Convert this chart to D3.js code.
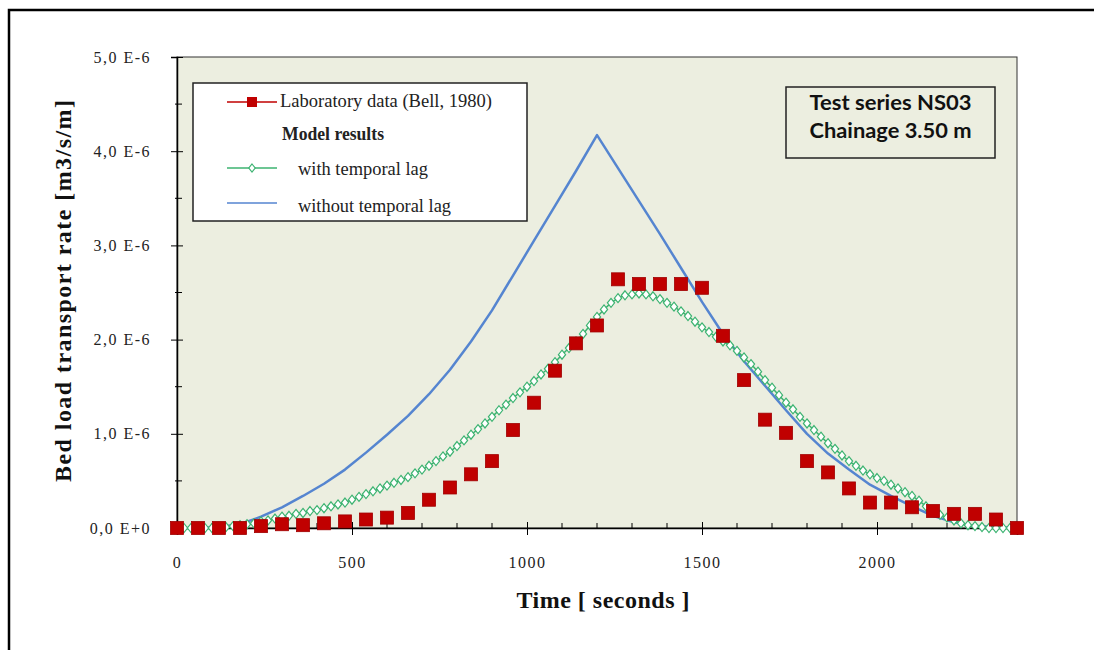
<!DOCTYPE html>
<html>
<head>
<meta charset="utf-8">
<script src="https://cdn.jsdelivr.net/npm/d3@7/dist/d3.min.js"></script>
<style>
  body { margin: 0; background: #fff; }
  svg { display: block; }
</style>
</head>
<body>
<svg width="1094" height="650"></svg>
<script>
// bed load rates are given in units of 1E-6 m3/s/m

// laboratory data (Bell, 1980), one sample each 60 s
var labTime = [0, 60, 120, 180, 240, 300, 360, 420, 480, 540, 600, 660, 720, 780, 840, 900,
  960, 1020, 1080, 1140, 1200, 1260, 1320, 1380, 1440, 1500, 1560, 1620, 1680, 1740, 1800,
  1860, 1920, 1980, 2040, 2100, 2160, 2220, 2280, 2340, 2400];
var labRate = [0, 0, 0, 0, 0.02, 0.04, 0.03, 0.05, 0.07, 0.09, 0.11, 0.16, 0.30, 0.43, 0.57, 0.71,
  1.04, 1.33, 1.67, 1.96, 2.15, 2.64, 2.59, 2.59, 2.59, 2.55, 2.04, 1.57, 1.15, 1.01, 0.71,
  0.59, 0.42, 0.27, 0.27, 0.22, 0.18, 0.15, 0.15, 0.09, 0];

// model without temporal lag, read at the same times as the lab data
var noLagRate = [0, 0, 0.01, 0.04, 0.12, 0.22, 0.34, 0.47, 0.62, 0.80, 0.99, 1.19, 1.42, 1.68, 1.98, 2.31,
  2.68, 3.05, 3.42, 3.79, 4.17, 3.82, 3.47, 3.12, 2.76, 2.40, 2.06, 1.77, 1.51, 1.25, 1.00,
  0.79, 0.62, 0.46, 0.34, 0.23, 0.13, 0.06, 0.02, 0.01, 0];

// model with temporal lag, output every 20 s
var lagTime = d3.range(0, 2401, 20);
var lagRate = [0, 0, 0, 0, 0, 0, 0.01, 0.01, 0.02, 0.03,
  0.04, 0.05, 0.07, 0.08, 0.10, 0.12, 0.13, 0.15, 0.16, 0.18,
  0.19, 0.21, 0.23, 0.25, 0.27, 0.30, 0.33, 0.36, 0.39, 0.42,
  0.45, 0.48, 0.51, 0.54, 0.58, 0.62, 0.66, 0.71, 0.76, 0.81,
  0.87, 0.93, 0.99, 1.05, 1.11, 1.18, 1.25, 1.31, 1.38, 1.44,
  1.50, 1.56, 1.63, 1.69, 1.76, 1.84, 1.91, 1.98, 2.06, 2.15,
  2.24, 2.32, 2.39, 2.44, 2.47, 2.48, 2.49, 2.48, 2.46, 2.43,
  2.39, 2.35, 2.30, 2.25, 2.19, 2.13, 2.08, 2.03, 1.98, 1.94,
  1.88, 1.81, 1.74, 1.66, 1.57, 1.49, 1.41, 1.33, 1.26, 1.18,
  1.11, 1.04, 0.97, 0.90, 0.84, 0.77, 0.71, 0.66, 0.61, 0.57,
  0.53, 0.50, 0.46, 0.42, 0.38, 0.34, 0.29, 0.23, 0.18, 0.14,
  0.11, 0.08, 0.05, 0.03, 0.02, 0.01, 0, 0, 0, 0,
  0];

// axis ticks
var xTicks = [0, 500, 1000, 1500, 2000];
var xMinor = d3.range(100, 2400, 100).filter(function(d) { return d % 500 != 0; });
var yTicks = [0, 1, 2, 3, 4, 5];
var yTickLabels = ["0,0 E+0", "1,0 E-6", "2,0 E-6", "3,0 E-6", "4,0 E-6", "5,0 E-6"];
var yMinor = [0.5, 1.5, 2.5, 3.5, 4.5];

var legendNames = ["Laboratory data (Bell, 1980)", "Model results", "with temporal lag", "without temporal lag"];

var red = "#c00000", green = "#3cb371", blue = "#5585d0";
var serif = "'Liberation Serif', 'Times New Roman', serif";

var svg = d3.select("svg"),
    plotLeft = 177, plotTop = 57, plotRight = 1017, plotBottom = 528;

var x = d3.scaleLinear().domain([0, 2400]).range([plotLeft, plotRight]);
var y = d3.scaleLinear().domain([0, 5]).range([plotBottom, plotTop]);

// outer frame (runs off the right and bottom edge)
svg.append("rect")
    .attr("x", 9).attr("y", 10)
    .attr("width", 1200).attr("height", 1000)
    .attr("fill", "#fff")
    .attr("stroke", "#000")
    .attr("stroke-width", 2.5);

// plot area
svg.append("rect")
    .attr("x", plotLeft).attr("y", plotTop)
    .attr("width", plotRight - plotLeft).attr("height", plotBottom - plotTop)
    .attr("fill", "#eceee0")
    .attr("stroke", "#333")
    .attr("stroke-width", 1);

// y axis
var yAxis = svg.append("g")
    .attr("transform", "translate(" + plotLeft + ",0)")
    .call(d3.axisLeft(y).tickValues(yTicks).tickSize(6)
      .tickFormat(function(d, i) { return yTickLabels[i]; }));
yAxis.select(".domain").attr("stroke", "#000").attr("stroke-width", 1.5);
yAxis.selectAll(".tick line").attr("x1", -6).attr("x2", 6);
yAxis.selectAll(".tick text")
    .attr("x", -26)
    .attr("font-family", serif)
    .attr("font-size", 16)
    .attr("letter-spacing", "1.5px")
    .attr("fill", "#222");

svg.append("g").selectAll("line")
    .data(yMinor)
    .enter().append("line")
      .attr("x1", plotLeft - 2).attr("x2", plotLeft + 5)
      .attr("y1", y).attr("y2", y)
      .attr("stroke", "#000");

// x axis
var xAxis = svg.append("g")
    .attr("transform", "translate(0," + plotBottom + ")")
    .call(d3.axisBottom(x).tickValues(xTicks).tickSize(7).tickFormat(d3.format("d")));
xAxis.select(".domain").attr("stroke", "#000").attr("stroke-width", 1.5);
xAxis.selectAll(".tick line").attr("y1", -6).attr("y2", 7);
xAxis.selectAll(".tick text")
    .attr("y", 34)
    .attr("dy", "0.35em")
    .attr("font-family", serif)
    .attr("font-size", 16)
    .attr("letter-spacing", "1.5px")
    .attr("fill", "#222");

svg.append("g").selectAll("line")
    .data(xMinor)
    .enter().append("line")
      .attr("x1", x).attr("x2", x)
      .attr("y1", plotBottom - 5).attr("y2", plotBottom + 1)
      .attr("stroke", "#000");

// axis titles
svg.append("text")
    .attr("transform", "translate(71,291)rotate(-90)")
    .attr("text-anchor", "middle")
    .attr("font-family", serif)
    .attr("font-weight", "bold")
    .attr("font-size", 24)
    .attr("textLength", 382)
    .attr("lengthAdjust", "spacing")
    .attr("fill", "#111")
    .text("Bed load transport rate [m3/s/m]");

svg.append("text")
    .attr("x", 603).attr("y", 608)
    .attr("text-anchor", "middle")
    .attr("font-family", serif)
    .attr("font-weight", "bold")
    .attr("font-size", 24)
    .attr("textLength", 173)
    .attr("lengthAdjust", "spacing")
    .attr("fill", "#111")
    .text("Time [ seconds ]");

// markers
function diamond(s) { return "M0," + -s + "L" + s * 0.8 + ",0L0," + s + "L" + -s * 0.8 + ",0Z"; }

// without temporal lag
svg.append("path")
    .datum(labTime.map(function(t, i) { return [t, noLagRate[i]]; }))
    .attr("fill", "none")
    .attr("stroke", blue)
    .attr("stroke-width", 2.5)
    .attr("stroke-linejoin", "round")
    .attr("d", d3.line()
      .x(function(d) { return x(d[0]); })
      .y(function(d) { return y(d[1]); }));

// with temporal lag
var lag = lagTime.map(function(t, i) { return [t, lagRate[i]]; });
svg.append("path")
    .datum(lag)
    .attr("fill", "none")
    .attr("stroke", green)
    .attr("stroke-width", 1.5)
    .attr("d", d3.line()
      .x(function(d) { return x(d[0]); })
      .y(function(d) { return y(d[1]); }));

svg.append("g").selectAll("path")
    .data(lag)
    .enter().append("path")
      .attr("transform", function(d) { return "translate(" + x(d[0]) + "," + y(d[1]) + ")"; })
      .attr("d", diamond(4.5))
      .attr("fill", "#fff")
      .attr("stroke", green)
      .attr("stroke-width", 1.2);

// lab data
svg.append("g").selectAll("rect")
    .data(labTime.map(function(t, i) { return [t, labRate[i]]; }))
    .enter().append("rect")
      .attr("x", function(d) { return x(d[0]) - 6.5; })
      .attr("y", function(d) { return y(d[1]) - 6.5; })
      .attr("width", 13).attr("height", 13)
      .attr("fill", red)
      .attr("stroke", "#a00000")
      .attr("stroke-width", 0.8);

// legend
var legend = svg.append("g");
legend.append("rect")
    .attr("x", 193).attr("y", 83)
    .attr("width", 334).attr("height", 138)
    .attr("fill", "#fff")
    .attr("stroke", "#222")
    .attr("stroke-width", 1.5);

legend.append("line")
    .attr("x1", 227).attr("x2", 277).attr("y1", 102).attr("y2", 102)
    .attr("stroke", red).attr("stroke-width", 1.5);
legend.append("rect")
    .attr("x", 247).attr("y", 97).attr("width", 10).attr("height", 10)
    .attr("fill", red);
legend.append("line")
    .attr("x1", 227).attr("x2", 277).attr("y1", 168).attr("y2", 168)
    .attr("stroke", green).attr("stroke-width", 1.5);
legend.append("path")
    .attr("transform", "translate(252,168)")
    .attr("d", diamond(4))
    .attr("fill", "#fff").attr("stroke", green).attr("stroke-width", 1.2);
legend.append("line")
    .attr("x1", 227).attr("x2", 277).attr("y1", 203).attr("y2", 203)
    .attr("stroke", blue).attr("stroke-width", 1.5);

var legendText = [
  { x: 280, y: 107, w: 212, bold: false },
  { x: 282, y: 140, w: 102, bold: true },
  { x: 298, y: 175, w: 130, bold: false },
  { x: 298, y: 212, w: 153, bold: false }
];
legend.selectAll("text")
    .data(legendNames)
    .enter().append("text")
      .attr("x", function(d, i) { return legendText[i].x; })
      .attr("y", function(d, i) { return legendText[i].y; })
      .attr("font-family", serif)
      .attr("font-size", 18)
      .attr("font-weight", function(d, i) { return legendText[i].bold ? "bold" : "normal"; })
      .attr("textLength", function(d, i) { return legendText[i].w; })
      .attr("lengthAdjust", "spacingAndGlyphs")
      .attr("fill", "#222")
      .text(function(d) { return d; });

// test series box
svg.append("rect")
    .attr("x", 786).attr("y", 87)
    .attr("width", 209).attr("height", 71)
    .attr("fill", "none")
    .attr("stroke", "#222")
    .attr("stroke-width", 1.5);

svg.append("g").selectAll("text")
    .data(["Test series NS03", "Chainage 3.50 m"])
    .enter().append("text")
      .attr("x", 890.5)
      .attr("y", function(d, i) { return 110 + i * 28; })
      .attr("text-anchor", "middle")
      .attr("font-family", "Lato, 'Open Sans', sans-serif")
      .attr("font-weight", "bold")
      .attr("font-size", 21)
      .attr("textLength", 162)
      .attr("lengthAdjust", "spacingAndGlyphs")
      .attr("fill", "#111")
      .text(function(d) { return d; });
</script>
</body>
</html>
